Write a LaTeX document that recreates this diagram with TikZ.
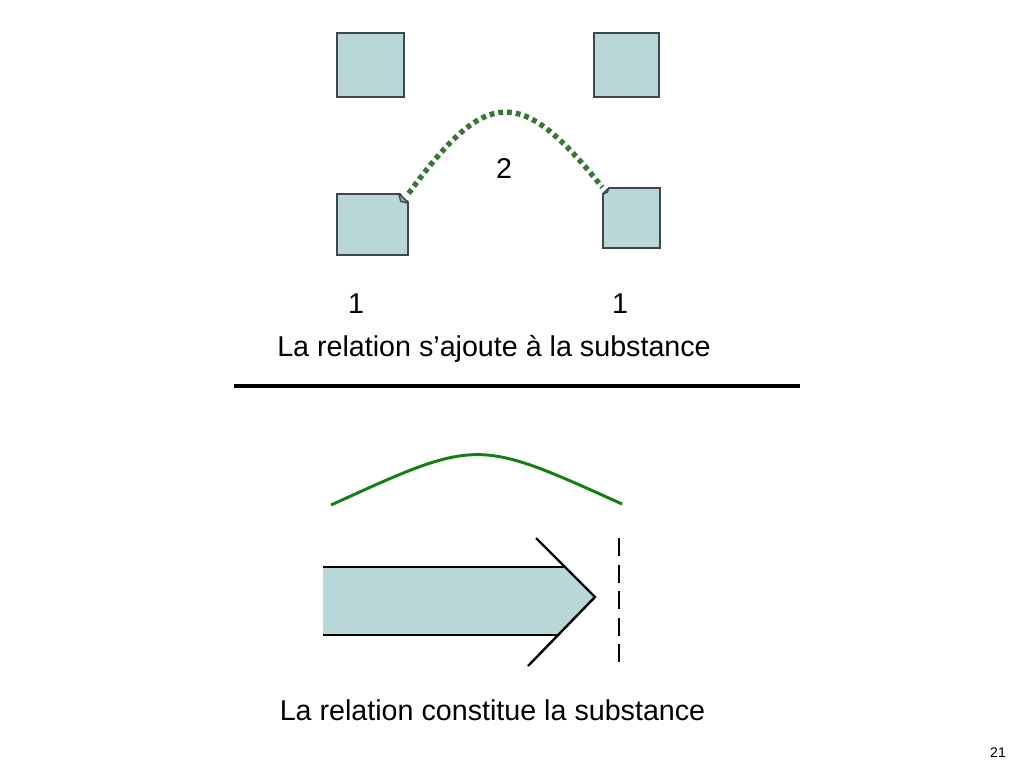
\documentclass[tikz,border=0pt]{standalone}
\usepackage{fontspec}
\setmainfont{Liberation Sans}
\usepackage{tikz}
\usetikzlibrary{positioning}
\definecolor{boxfill}{RGB}{185,214,217}
\definecolor{boxline}{RGB}{60,72,76}
\definecolor{dotgreen}{RGB}{52,120,52}
\definecolor{curvegreen}{RGB}{16,128,16}
\begin{document}
\begin{tikzpicture}[x=0.75pt, y=-0.75pt,
substance/.style={rectangle, draw=boxline, fill=boxfill, line width=1pt, inner sep=0pt},
label/.style={font=\fontsize{21.5}{25}\selectfont, anchor=base, inner sep=0pt},
relation/.style={dotgreen, line width=4pt, dash pattern=on 3.6pt off 3pt},
bond/.style={curvegreen, line width=2.2pt},
edge/.style={black, line width=1.8pt}
]
\useasboundingbox (0,0) rectangle (1024,768);
\node[substance, minimum width=50.25pt, minimum height=48pt] (subTL) at (370.5,65) {};
\node[substance, minimum width=48.75pt, minimum height=48pt] (subTR) at (626.5,65) {};
\node[substance, minimum width=53.25pt, minimum height=45.75pt] (subBL) at (372.5,224.5) {};
\node[substance, minimum width=42.75pt, minimum height=45pt] (subBR) at (631.5,218) {};
\fill[white] ([shift={(-10,-2)}]subBL.north east) -- ([shift={(2,-2)}]subBL.north east) -- ([shift={(2,10)}]subBL.north east) -- cycle;
\draw[boxline, fill=boxfill!70!boxline, line width=1pt, line join=round] ([shift={(-10,0)}]subBL.north east) -- ([shift={(0,10)}]subBL.north east) -- ([shift={(-8,8)}]subBL.north east) -- cycle;
\fill[white] ([shift={(-2,-2)}]subBR.north west) -- ([shift={(9,-2)}]subBR.north west) -- ([shift={(-2,9)}]subBR.north west) -- cycle;
\draw[boxline, fill=boxfill!70!boxline, line width=1pt, line join=round] ([shift={(7,0)}]subBR.north west) -- ([shift={(0,7)}]subBR.north west) -- ([shift={(5,5)}]subBR.north west) -- cycle;
\draw[relation] (subBL.north east) .. controls (487,86) and (521,86) .. (subBR.north west);
\node[label] (two) at (504,178) {2};
\node[label] (oneL) at (356,313) {1};
\node[label] (oneR) at (620,313) {1};
\node[label] (adds) at (494,356) {La relation s’ajoute à la substance};
\coordinate (sepL) at (234,386);
\coordinate (sepR) at (800,386);
\draw[black, line width=3pt] (sepL) -- (sepR);
\coordinate (bondL) at (331,505);
\coordinate (bondR) at (622,504);
\draw[bond] (bondL) .. controls (478,438) and (476,438) .. (bondR);
\coordinate (tailT) at (323,567);
\coordinate (tailB) at (323,635);
\coordinate (headT) at (565,567);
\coordinate (headB) at (558,635);
\coordinate (tip) at (595,597);
\coordinate (armT) at (536,538);
\coordinate (armB) at (528,666);
\fill[boxfill] (tailT) -- (headT) -- (tip) -- (headB) -- (tailB) -- cycle;
\draw[edge] (tailT) -- (headT);
\draw[edge] (tailB) -- (headB);
\draw[edge, line join=miter] (armT) -- (tip) -- (armB);
\coordinate (limitT) at (619,538);
\coordinate (limitB) at (619,662);
\draw[black, line width=1.8pt, dash pattern=on 13.5pt off 6.4pt] (limitT) -- (limitB);
\node[label] (makes) at (492.5,720) {La relation constitue la substance};
\node[label, font=\fontsize{10.5}{12}\selectfont] (page) at (998,757) {21};
\end{tikzpicture}
\end{document}
